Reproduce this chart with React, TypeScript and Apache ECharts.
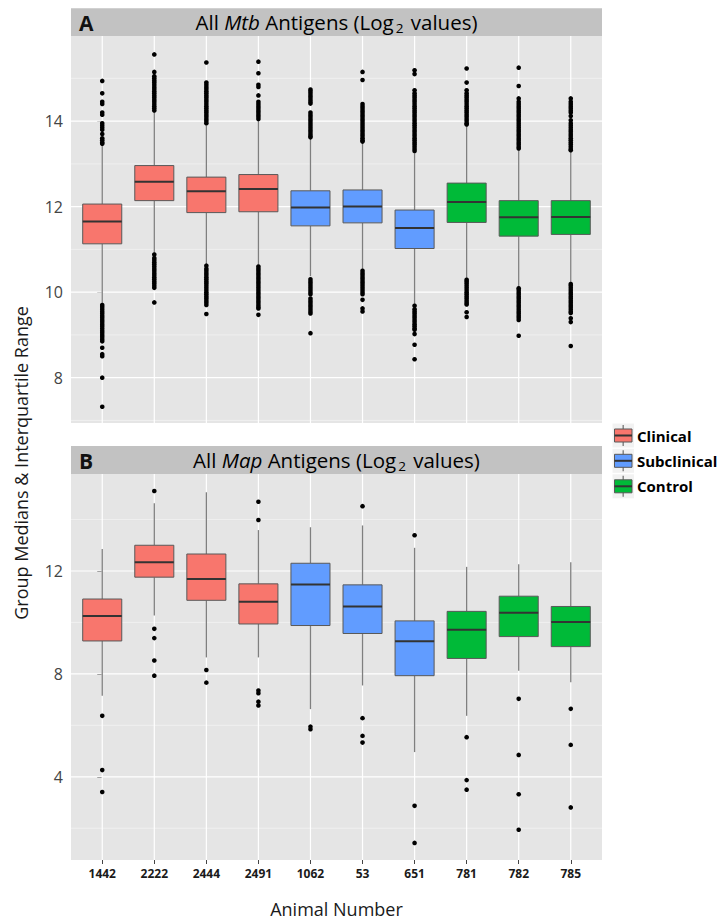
import React, { useEffect, useRef } from "react";
import * as echarts from "echarts";

const animals = ["1442", "2222", "2444", "2491", "1062", "53", "651", "781", "782", "785"];
const animalGroup = [0, 0, 0, 0, 1, 1, 1, 2, 2, 2];
const groupNames = ["Clinical", "Subclinical", "Control"];
const groupColors = ["#F8766D", "#619CFF", "#00BA38"];

// Panel A: All Mtb antigens
const mtbWhiskerLow = [9.74, 10.91, 10.66, 10.64, 10.37, 10.52, 9.72, 10.32, 10.12, 10.22];
const mtbQ1 = [11.13, 12.14, 11.86, 11.88, 11.55, 11.62, 11.02, 11.63, 11.31, 11.35];
const mtbMedian = [11.65, 12.58, 12.36, 12.41, 11.98, 12.0, 11.5, 12.11, 11.75, 11.76];
const mtbQ3 = [12.06, 12.96, 12.69, 12.75, 12.37, 12.39, 11.92, 12.55, 12.14, 12.14];
const mtbWhiskerHigh = [13.44, 14.22, 13.9, 14.02, 13.58, 13.5, 13.25, 13.88, 13.32, 13.3];
const mtbOutliers = [
  [14.94, 14.65, 14.45, 14.4, 14.2, 14.15, 13.95, 13.9, 13.85, 13.8, 13.7, 13.6, 13.55, 13.5, 13.47,
   9.7, 9.65, 9.6, 9.55, 9.5, 9.45, 9.4, 9.35, 9.3, 9.25, 9.2, 9.15, 9.1, 9.05, 9.0, 8.95, 8.9, 8.85, 8.7, 8.55, 8.5, 8.0, 7.32],
  [15.56, 15.15, 15.05, 15.0, 14.95, 14.9, 14.85, 14.8, 14.75, 14.7, 14.65, 14.6, 14.55, 14.5, 14.45, 14.4, 14.35, 14.3, 14.25,
   10.88, 10.8, 10.75, 10.7, 10.65, 10.6, 10.55, 10.5, 10.45, 10.4, 10.35, 10.3, 10.25, 10.2, 10.15, 10.1, 9.76],
  [15.37, 14.9, 14.85, 14.8, 14.75, 14.7, 14.65, 14.6, 14.55, 14.5, 14.45, 14.4, 14.35, 14.3, 14.25, 14.2, 14.15, 14.1, 14.05, 14.0, 13.95,
   10.62, 10.55, 10.5, 10.45, 10.4, 10.35, 10.3, 10.25, 10.2, 10.15, 10.1, 10.05, 10.0, 9.95, 9.9, 9.85, 9.8, 9.75, 9.7, 9.49],
  [15.39, 15.12, 14.85, 14.8, 14.6, 14.45, 14.4, 14.35, 14.3, 14.25, 14.2, 14.15, 14.1, 14.05,
   10.6, 10.55, 10.5, 10.45, 10.4, 10.35, 10.3, 10.25, 10.2, 10.15, 10.1, 10.05, 10.0, 9.95, 9.9, 9.85, 9.8, 9.75, 9.7, 9.65, 9.62, 9.47],
  [14.74, 14.7, 14.65, 14.6, 14.55, 14.5, 14.45, 14.41, 14.2, 14.15, 14.1, 14.05, 14.0, 13.95, 13.9, 13.85, 13.8, 13.75, 13.7, 13.65, 13.62,
   10.3, 10.25, 10.2, 10.15, 10.1, 10.05, 10.0, 9.95, 9.85, 9.8, 9.75, 9.7, 9.65, 9.6, 9.55, 9.5, 9.04],
  [15.15, 14.96, 14.4, 14.35, 14.3, 14.25, 14.2, 14.15, 14.1, 14.05, 14.0, 13.95, 13.9, 13.85, 13.8, 13.75, 13.7, 13.65, 13.6, 13.55, 13.52,
   10.5, 10.45, 10.4, 10.35, 10.3, 10.25, 10.2, 10.15, 10.1, 10.05, 10.0, 9.95, 9.82, 9.62, 9.55],
  [15.19, 15.1, 14.72, 14.65, 14.6, 14.55, 14.5, 14.45, 14.4, 14.35, 14.3, 14.25, 14.2, 14.15, 14.1, 14.05, 14.0, 13.95, 13.9, 13.85,
   13.8, 13.75, 13.7, 13.65, 13.6, 13.55, 13.5, 13.45, 13.4, 13.35, 13.3,
   9.68, 9.6, 9.55, 9.5, 9.45, 9.4, 9.35, 9.3, 9.25, 9.2, 9.15, 9.12, 9.02, 8.77, 8.43],
  [15.23, 14.9, 14.72, 14.65, 14.6, 14.55, 14.5, 14.45, 14.4, 14.35, 14.3, 14.25, 14.2, 14.15, 14.1, 14.05, 14.0, 13.95, 13.92,
   10.29, 10.25, 10.2, 10.15, 10.1, 10.05, 10.0, 9.95, 9.9, 9.85, 9.8, 9.75, 9.71, 9.53, 9.42],
  [15.25, 14.82, 14.53, 14.45, 14.4, 14.35, 14.3, 14.25, 14.2, 14.15, 14.1, 14.05, 14.0, 13.95, 13.9, 13.85, 13.8, 13.75, 13.7, 13.65,
   13.6, 13.55, 13.5, 13.45, 13.4, 13.36,
   10.09, 10.05, 10.0, 9.95, 9.9, 9.85, 9.8, 9.75, 9.7, 9.65, 9.6, 9.55, 9.5, 9.45, 9.4, 9.35, 8.98],
  [14.53, 14.45, 14.4, 14.35, 14.3, 14.25, 14.2, 14.12, 14.02, 13.95, 13.9, 13.85, 13.8, 13.75, 13.7, 13.65, 13.6, 13.55, 13.5, 13.45,
   13.4, 13.35, 13.32,
   10.19, 10.15, 10.1, 10.05, 10.0, 9.95, 9.9, 9.85, 9.8, 9.75, 9.7, 9.65, 9.6, 9.55, 9.51, 9.39, 9.3, 8.74],
];

// Panel B: All Map antigens
const mapWhiskerLow = [7.15, 10.27, 8.64, 8.64, 6.63, 7.55, 4.96, 6.37, 8.12, 7.67];
const mapQ1 = [9.28, 11.76, 10.86, 9.94, 9.88, 9.57, 7.93, 8.6, 9.45, 9.06];
const mapMedian = [10.25, 12.34, 11.69, 10.8, 11.47, 10.62, 9.27, 9.72, 10.38, 10.02];
const mapQ3 = [10.91, 13.0, 12.66, 11.5, 12.3, 11.46, 10.06, 10.43, 11.02, 10.62];
const mapWhiskerHigh = [12.85, 14.63, 15.06, 13.59, 13.7, 13.77, 12.9, 12.16, 12.26, 12.34];
const mapOutliers = [
  [6.37, 4.26, 3.41],
  [15.11, 9.75, 9.39, 8.52, 7.93],
  [8.15, 7.66],
  [14.69, 13.98, 7.35, 7.25, 6.92, 6.77],
  [5.95, 5.85],
  [14.52, 6.28, 5.59, 5.33],
  [13.39, 2.87, 1.43],
  [5.54, 3.87, 3.5],
  [7.03, 4.85, 3.32, 1.94],
  [6.64, 5.24, 2.81],
];

const mtbMajorTicks = [8, 10, 12, 14];
const mtbMinorTicks = [7, 9, 11, 13, 15];
const mapMajorTicks = [4, 8, 12];
const mapMinorTicks = [2, 6, 10, 14];

const FONT = "'Open Sans', 'Noto Sans', sans-serif";

function boxData(lo: number[], q1: number[], med: number[], q3: number[], hi: number[]) {
  return animals.map((_, i) => [i, lo[i], q1[i], med[i], q3[i], hi[i], animalGroup[i]]);
}
function outlierData(out: number[][]) {
  const res: number[][] = [];
  out.forEach((arr, i) => arr.forEach((v) => res.push([i, v])));
  return res;
}

function gridSeries(gi: number, major: number[], minor: number[]) {
  const hLines = [
    ...minor.map((v) => [0, v, 0]),
    ...major.map((v) => [0, v, 1]),
  ];
  return [
    {
      type: "custom",
      xAxisIndex: gi,
      yAxisIndex: gi,
      z: 1,
      silent: true,
      data: hLines,
      renderItem: (params: any, api: any) => {
        const cs = params.coordSys;
        const y = api.coord([0, api.value(1)])[1];
        const isMajor = api.value(2) === 1;
        return {
          type: "line",
          shape: { x1: cs.x, y1: y, x2: cs.x + cs.width, y2: y },
          style: { stroke: isMajor ? "#FFFFFF" : "#F2F2F2", lineWidth: isMajor ? 1.2 : 0.8 },
        };
      },
    },
    {
      type: "custom",
      xAxisIndex: gi,
      yAxisIndex: gi,
      z: 1,
      silent: true,
      data: animals.map((_, i) => [i, 0]),
      renderItem: (params: any, api: any) => {
        const cs = params.coordSys;
        const x = api.coord([api.value(0), 0])[0];
        return {
          type: "line",
          shape: { x1: x, y1: cs.y, x2: x, y2: cs.y + cs.height },
          style: { stroke: "#FFFFFF", lineWidth: 1.2 },
        };
      },
    },
  ];
}

function boxSeries(gi: number, data: number[][]) {
  return {
    type: "custom",
    xAxisIndex: gi,
    yAxisIndex: gi,
    z: 3,
    silent: true,
    encode: { x: 0, y: [1, 2, 3, 4, 5] },
    data,
    renderItem: (params: any, api: any) => {
      const x = api.value(0);
      const lo = api.coord([x, api.value(1)]);
      const q1 = api.coord([x, api.value(2)]);
      const med = api.coord([x, api.value(3)]);
      const q3 = api.coord([x, api.value(4)]);
      const hi = api.coord([x, api.value(5)]);
      const bw = api.size([1, 0])[0] * 0.75;
      const color = groupColors[api.value(6)];
      const whisk = { stroke: "#7F7F7F", lineWidth: 1.3 };
      return {
        type: "group",
        children: [
          { type: "line", shape: { x1: lo[0], y1: lo[1], x2: q1[0], y2: q1[1] }, style: whisk },
          { type: "line", shape: { x1: q3[0], y1: q3[1], x2: hi[0], y2: hi[1] }, style: whisk },
          {
            type: "rect",
            shape: { x: q3[0] - bw / 2, y: q3[1], width: bw, height: q1[1] - q3[1] },
            style: { fill: color, stroke: "#595959", lineWidth: 1 },
          },
          {
            type: "line",
            shape: { x1: med[0] - bw / 2, y1: med[1], x2: med[0] + bw / 2, y2: med[1] },
            style: { stroke: "#333333", lineWidth: 2 },
          },
        ],
      };
    },
  };
}

function outlierSeries(gi: number, data: number[][]) {
  return {
    type: "scatter",
    xAxisIndex: gi,
    yAxisIndex: gi,
    z: 4,
    silent: true,
    symbol: "circle",
    symbolSize: 4.6,
    itemStyle: { color: "#000000", opacity: 1 },
    data,
  };
}

function stripText(antigen: string) {
  return `{n|All }{i|${antigen}}{n| Antigens (Log}{s|2}{n| values)}`;
}

export default function App() {
  const ref = useRef<HTMLDivElement>(null);
  useEffect(() => {
    if (!ref.current) return;
    const chart = echarts.init(ref.current, undefined, { renderer: "svg" });
    const panelLeft = 71;
    const panelWidth = 531;
    const aTop = 36, aHeight = 387;
    const bTop = 474, bHeight = 386;
    const richStrip = {
      n: { fontSize: 20.5, fontFamily: FONT, color: "#1A1A1A", lineHeight: 26 },
      i: { fontSize: 20.5, fontFamily: FONT, color: "#1A1A1A", fontStyle: "italic", lineHeight: 26 },
      s: { fontSize: 13.5, fontFamily: FONT, color: "#1A1A1A", lineHeight: 12, verticalAlign: "bottom", padding: [0, 2, 0, 2] },
    };
    const yAxisCommon = (min: number, max: number, ticks: number[], gi: number) => ({
      type: "value",
      gridIndex: gi,
      min,
      max,
      axisLine: { show: false },
      axisTick: { show: true, length: 5, lineStyle: { color: "#444", width: 1 }, customValues: ticks },
      axisLabel: {
        show: true,
        customValues: ticks,
        fontSize: 16,
        color: "#444",
        fontFamily: FONT,
        margin: 8,
      },
      splitLine: { show: false },
    });
    const legendItems: any[] = [];
    const legendCenters = [435.5, 460.8, 486.3];
    groupNames.forEach((name, k) => {
      const cy = legendCenters[k];
      legendItems.push(
        { type: "rect", shape: { x: 612.5, y: cy - 12, width: 21.5, height: 24 }, style: { fill: "#F2F2F2" } },
        { type: "line", shape: { x1: 623.2, y1: cy - 10.5, x2: 623.2, y2: cy + 10.5 }, style: { stroke: "#7F7F7F", lineWidth: 1.4 } },
        { type: "rect", shape: { x: 614.5, y: cy - 6.5, width: 17.5, height: 13 }, style: { fill: groupColors[k], stroke: "#595959", lineWidth: 1 } },
        { type: "line", shape: { x1: 614.5, y1: cy, x2: 632, y2: cy }, style: { stroke: "#333", lineWidth: 2 } },
        {
          type: "text",
          x: 637,
          y: cy,
          style: { text: name, fontSize: 15, fontWeight: "bold", fontFamily: FONT, fill: "#000", textVerticalAlign: "middle", textAlign: "left" },
        }
      );
    });

    const option: any = {
      animation: false,
      backgroundColor: "#FFFFFF",
      grid: [
        { left: panelLeft, top: aTop, width: panelWidth, height: aHeight, show: true, backgroundColor: "#E5E5E5", borderWidth: 0 },
        { left: panelLeft, top: bTop, width: panelWidth, height: bHeight, show: true, backgroundColor: "#E5E5E5", borderWidth: 0 },
      ],
      xAxis: [
        {
          type: "value", gridIndex: 0, min: -0.6, max: 9.6,
          axisLine: { show: false }, axisTick: { show: false }, axisLabel: { show: false }, splitLine: { show: false },
        },
        {
          type: "value", gridIndex: 1, min: -0.6, max: 9.6,
          axisLine: { show: false },
          axisTick: { show: true, length: 4, lineStyle: { color: "#444" }, customValues: animals.map((_, i) => i) },
          axisLabel: {
            show: true,
            customValues: animals.map((_, i) => i),
            formatter: (v: number) => animals[Math.round(v)] ?? "",
            fontSize: 12,
            fontWeight: "bold",
            color: "#1A1A1A",
            fontFamily: FONT,
            margin: 7,
          },
          splitLine: { show: false },
        },
      ],
      yAxis: [yAxisCommon(6.94, 15.99, mtbMajorTicks, 0), yAxisCommon(0.765, 15.77, mapMajorTicks, 1)],
      graphic: [
        { type: "rect", shape: { x: panelLeft, y: 8.3, width: panelWidth, height: 27.7 }, style: { fill: "#C2C2C2" } },
        { type: "rect", shape: { x: panelLeft, y: 446, width: panelWidth, height: 28 }, style: { fill: "#C2C2C2" } },
        {
          type: "text", x: 79, y: 22.5,
          style: { text: "A", fontSize: 21, fontWeight: "bold", fontFamily: FONT, fill: "#111", textVerticalAlign: "middle" },
        },
        {
          type: "text", x: 79, y: 460.5,
          style: { text: "B", fontSize: 21, fontWeight: "bold", fontFamily: FONT, fill: "#111", textVerticalAlign: "middle" },
        },
        {
          type: "text", x: panelLeft + panelWidth / 2, y: 22,
          style: { text: stripText("Mtb"), rich: richStrip, textAlign: "center", textVerticalAlign: "middle" },
        },
        {
          type: "text", x: panelLeft + panelWidth / 2, y: 460,
          style: { text: stripText("Map"), rich: richStrip, textAlign: "center", textVerticalAlign: "middle" },
        },
        {
          type: "text", x: 21, y: 463, rotation: Math.PI / 2,
          style: { text: "Group Medians & Interquartile Range", fontSize: 18, fontFamily: FONT, fill: "#1A1A1A", textAlign: "center", textVerticalAlign: "middle" },
        },
        {
          type: "text", x: panelLeft + panelWidth / 2, y: 909,
          style: { text: "Animal Number", fontSize: 18, fontFamily: FONT, fill: "#1A1A1A", textAlign: "center", textVerticalAlign: "middle" },
        },
        ...legendItems,
      ],
      series: [
        ...gridSeries(0, mtbMajorTicks, mtbMinorTicks),
        ...gridSeries(1, mapMajorTicks, mapMinorTicks),
        boxSeries(0, boxData(mtbWhiskerLow, mtbQ1, mtbMedian, mtbQ3, mtbWhiskerHigh)),
        boxSeries(1, boxData(mapWhiskerLow, mapQ1, mapMedian, mapQ3, mapWhiskerHigh)),
        outlierSeries(0, outlierData(mtbOutliers)),
        outlierSeries(1, outlierData(mapOutliers)),
      ],
    };
    chart.setOption(option);
    return () => chart.dispose();
  }, []);
  return <div ref={ref} style={{ position: "absolute", left: 0, top: 0, width: 719, height: 920 }} />;
}
